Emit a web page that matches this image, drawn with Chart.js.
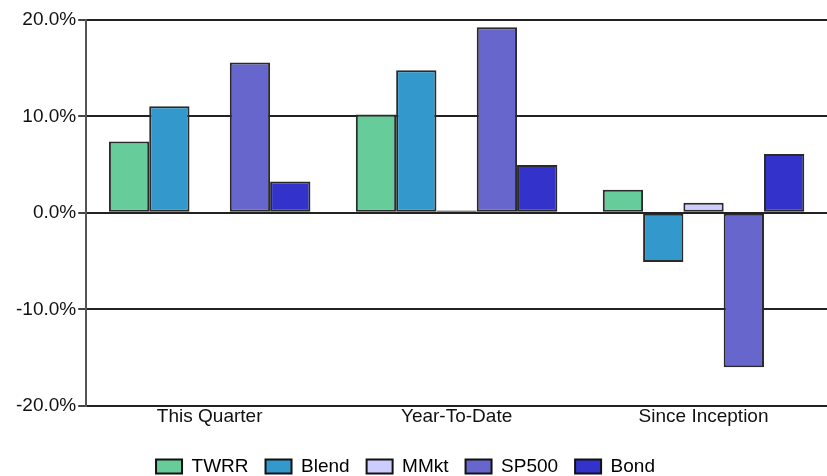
<!DOCTYPE html>
<html>
<head>
<meta charset="utf-8">
<script src="https://cdn.jsdelivr.net/npm/chart.js@4"></script>
<style>
  html, body { margin: 0; padding: 0; background: #fff; }
  #wrap { width: 827px; height: 476px; }
</style>
</head>
<body>
<div id="wrap"><canvas id="chart"></canvas></div>
<script>
// Categories and series values (percent)
const categories = ['This Quarter', 'Year-To-Date', 'Since Inception'];
const twrr = [7.4, 10.2, 2.4];
const blend = [11.05, 14.8, -5.1];
const mmkt = [0.0, 0.25, 1.05];
const sp500 = [15.6, 19.25, -16.0];
const bond = [3.25, 4.95, 6.1];

const seriesNames = ['TWRR', 'Blend', 'MMkt', 'SP500', 'Bond'];
const seriesColors = ['#66CC99', '#3399CC', '#CCCCFF', '#6666CC', '#3333CC'];
const seriesValues = [twrr, blend, mmkt, sp500, bond];

const fontFamily = 'Liberation Sans, Arial, sans-serif';
const ctx = document.getElementById('chart').getContext('2d');

// Nudge legend a bit to the left, like the original
const legendShift = {
  id: 'legendShift',
  afterLayout(chart) {
    chart.legend.left -= 15;
    chart.legend.right -= 15;
  }
};

new Chart(ctx, {
  type: 'bar',
  data: {
    labels: categories,
    datasets: seriesNames.map((name, i) => ({
      label: name,
      data: seriesValues[i],
      backgroundColor: seriesColors[i],
      borderColor: '#2a2a2a',
      borderWidth: 2,
      borderSkipped: false,
      categoryPercentage: 0.816,
      barPercentage: 1.0
    }))
  },
  plugins: [legendShift],
  options: {
    responsive: true,
    maintainAspectRatio: false,
    animation: false,
    layout: {
      padding: { left: 14, right: 0, top: 20, bottom: -10 }
    },
    plugins: {
      legend: {
        position: 'bottom',
        labels: {
          color: '#111',
          font: { family: fontFamily, size: 19 },
          boxWidth: 26,
          boxHeight: 14,
          padding: 17,
          generateLabels: chart => chart.data.datasets.map((ds, i) => ({
            text: ds.label,
            fillStyle: ds.backgroundColor,
            strokeStyle: '#111',
            lineWidth: 2,
            datasetIndex: i
          }))
        }
      },
      tooltip: { enabled: false }
    },
    scales: {
      x: {
        grid: { display: false, drawTicks: false },
        border: { display: false },
        ticks: {
          color: '#111',
          font: { family: fontFamily, size: 19 },
          padding: 0
        },
        afterFit: scale => { scale.height += 11.5; }
      },
      y: {
        min: -20,
        max: 20,
        ticks: {
          stepSize: 10,
          color: '#111',
          font: { family: fontFamily, size: 19 },
          padding: 2,
          callback: v => v.toFixed(1) + '%'
        },
        grid: {
          color: '#222',
          lineWidth: 2,
          tickLength: 8,
          tickColor: '#444'
        },
        border: { display: true, color: '#555', width: 2 }
      }
    }
  }
});
</script>
</body>
</html>
